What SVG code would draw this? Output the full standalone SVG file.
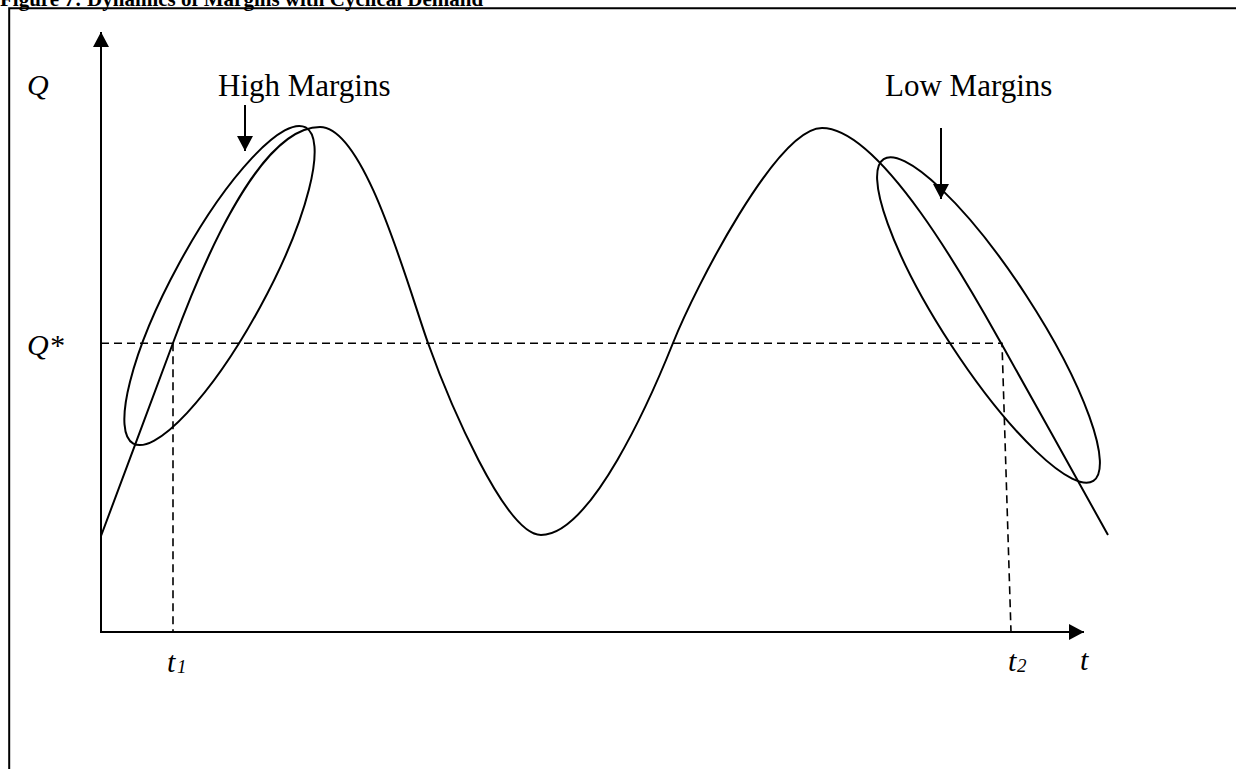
<svg xmlns="http://www.w3.org/2000/svg" width="1236" height="769" viewBox="0 0 1236 769">
<style>
.frame{fill:none;stroke:#000;stroke-width:2}
.axis{fill:none;stroke:#000;stroke-width:2}
.curve{fill:none;stroke:#000;stroke-width:2}
.dash{fill:none;stroke:#000;stroke-width:1.6;stroke-dasharray:8 5}
.lbl{font-family:"Liberation Serif",serif;font-size:31px;fill:#000}
.math{font-family:"Liberation Serif",serif;font-style:italic;font-size:30px;fill:#000}
.sub{font-family:"Liberation Serif",serif;font-style:italic;font-size:19px;fill:#000}
.title{font-family:"Liberation Serif",serif;font-weight:bold;font-size:21px;fill:#000}
</style>
<defs>
<marker id="ah" markerUnits="userSpaceOnUse" markerWidth="16" markerHeight="16" refX="15" refY="8" orient="auto" viewBox="0 0 16 16">
<path d="M0,0 L15,8 L0,16 Z" fill="#000"/>
</marker>
</defs>
<rect width="1236" height="769" fill="#fff"/>
<text class="title" x="0" y="5.5">Figure 7: Dynamics of Margins with Cyclical Demand</text>
<path class="frame" d="M9.2,769 L9.2,8.2 L1236,8.2"/>
<g id="connectors">
<line class="axis" x1="101" y1="632" x2="101" y2="32" marker-end="url(#ah)"/>
<line class="axis" x1="100" y1="632" x2="1084" y2="632" marker-end="url(#ah)"/>
<path class="dash" d="M101,343.3 L1002,343.3 L1011,632"/>
<path class="dash" d="M173,343.3 L173,632"/>
<line class="axis" x1="245" y1="105" x2="245" y2="151" marker-end="url(#ah)"/>
<line class="axis" x1="941" y1="128" x2="941" y2="199" marker-end="url(#ah)"/>
</g>
<g id="demand-curve">
<path class="curve" d="M101,536 C113,504 162.6,371.1 173,343 C193.8,286.7 255,127 320,127 C365,127 407.8,286.5 428,343 C448.2,399.5 505,535 541,535 C591,535 650.7,398.7 673,343 C695.3,287.3 777,128 822,128 C882,128 971.6,290.7 1001,343 C1030.4,395.3 1083,490 1108,535"/>
</g>
<g id="high-margins">
<ellipse class="curve" cx="219.5" cy="285.5" rx="180" ry="46" transform="rotate(-61.4 219.5 285.5)"/>
<text class="lbl" x="218" y="96">High Margins</text>
</g>
<g id="low-margins">
<ellipse class="curve" cx="988.5" cy="320" rx="192" ry="45" transform="rotate(56.9 988.5 320)"/>
<text class="lbl" x="885" y="96">Low Margins</text>
</g>
<g id="labels">
<text class="math" x="27" y="95">Q</text>
<text class="math" x="27" y="355">Q*</text>
<text class="math" x="167" y="672">t</text>
<text class="sub" x="177" y="673">1</text>
<text class="math" x="1008" y="671">t</text>
<text class="sub" x="1017" y="672">2</text>
<text class="math" x="1080" y="670">t</text>
</g>
</svg>
